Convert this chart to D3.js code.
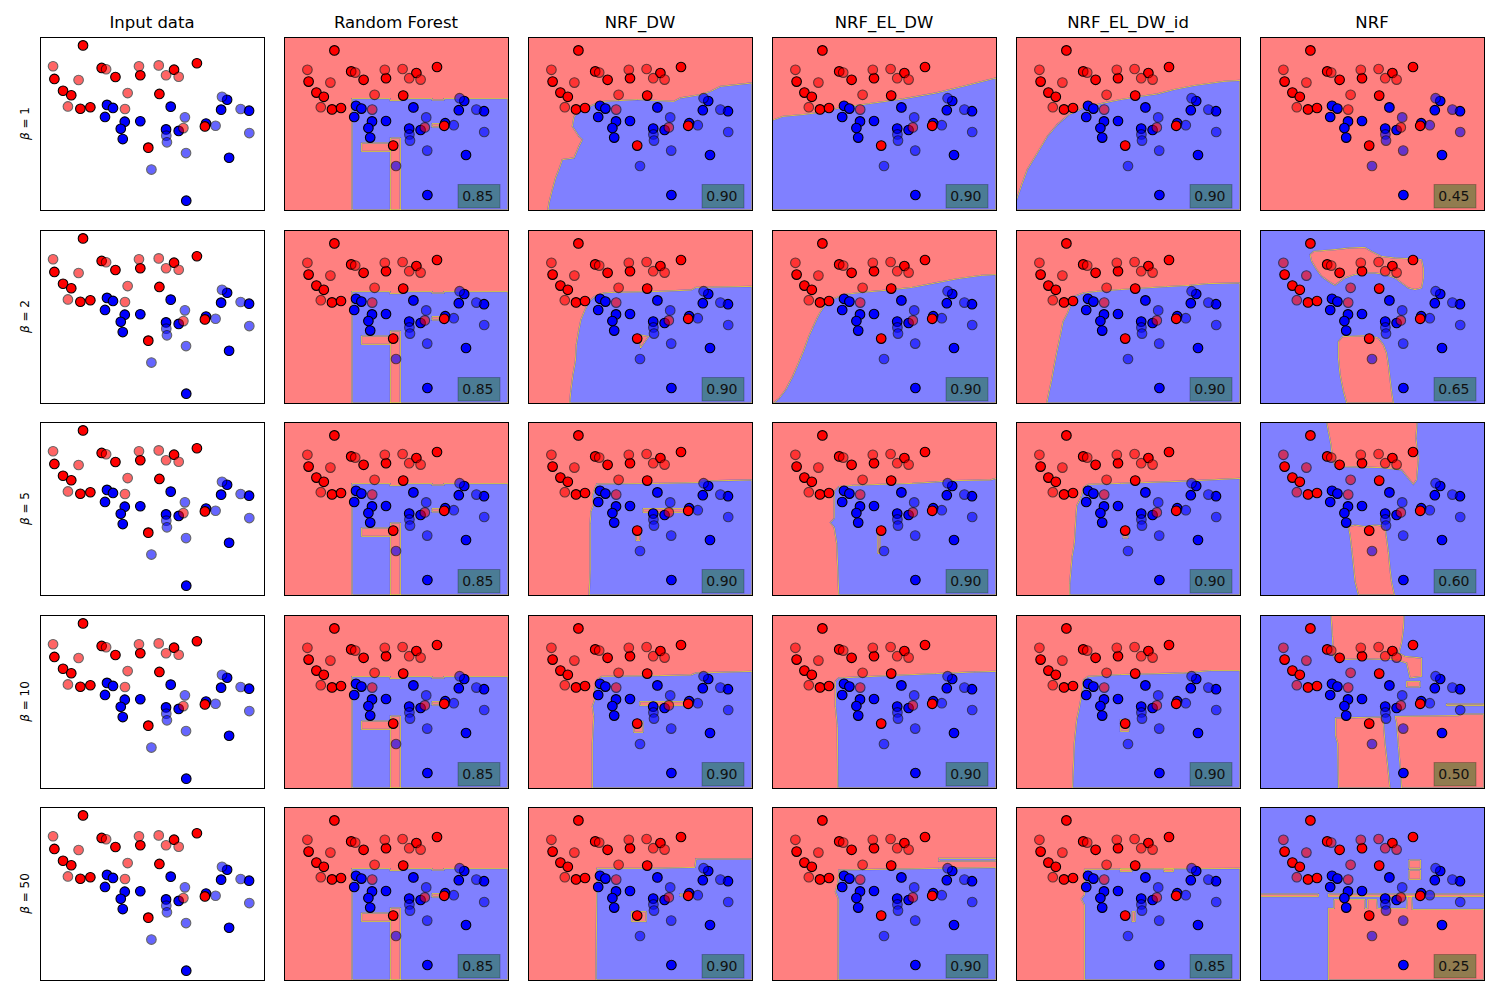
<!DOCTYPE html>
<html><head><meta charset="utf-8">
<script src="https://cdn.jsdelivr.net/npm/d3@7"></script>
<style>body{margin:0;background:#fff}text{font-family:"DejaVu Sans",sans-serif}</style>
</head><body><svg id="c" width="1500" height="1000"></svg>
<script>
// ---------------- data ----------------
const methods = ["Input data", "Random Forest", "NRF_DW", "NRF_EL_DW", "NRF_EL_DW_id", "NRF"];
const betas = [1, 2, 5, 10, 50];
// test accuracy per row (beta) for the 5 classifiers
const scores = [
  [0.85, 0.90, 0.90, 0.90, 0.45],
  [0.85, 0.90, 0.90, 0.90, 0.65],
  [0.85, 0.90, 0.90, 0.90, 0.60],
  [0.85, 0.90, 0.90, 0.90, 0.50],
  [0.85, 0.90, 0.90, 0.85, 0.25]
];
// feature space
const xDomain = [0, 11.2], yDomain = [0, 8.65];          // mesh (decision) range
const xInput = [0.582, 10.672], yInput = [0.318, 8.371];  // input panel range
const redTrain = [[2.52,7.98],[3.36,6.93],[7.65,7.15],[6.62,6.85],[3.98,6.51],[5.10,6.59],[1.23,6.42],
  [1.62,5.87],[1.99,5.66],[5.96,5.72],[2.40,5.03],[2.85,5.10],[8.01,4.21],[5.46,3.22]];
const blueTrain = [[3.60,5.21],[3.87,5.07],[3.51,4.65],[4.40,4.43],[4.22,4.10],[4.31,3.62],[5.10,4.45],
  [6.47,5.13],[6.26,4.07],[6.83,4.00],[8.06,4.34],[9.01,5.45],[8.74,4.99],[10.00,4.94],[9.10,2.75],[7.17,0.75]];
const redTest = [[1.17,7.01],[3.56,6.87],[5.04,7.01],[5.93,7.05],[6.26,6.59],[6.83,6.52],[2.32,6.37],
  [4.53,5.76],[1.84,5.14],[4.41,5.02],[7.04,4.13]];
const blueTest = [[7.11,4.63],[6.27,3.78],[6.30,3.47],[8.49,4.24],[8.78,5.59],[9.62,5.02],[10.01,3.90],
  [7.16,2.97],[5.60,2.20]];

function box(x0, x1, y0, y1) { return [[x0,y0],[x1,y0],[x1,y1],[x0,y1]]; }

// decision regions: background class + polygons [class, vertices]
const rfRegion = {bg: "r", polys: [
  ["b", [[3.4,0],[3.4,5.57],[5.3,5.57],[5.3,5.47],[5.9,5.47],[5.9,5.57],[7.4,5.57],[7.4,5.5],[8.0,5.5],[8.0,5.57],[11.2,5.57],[11.2,0]]],
  ["r", box(5.32,5.82,0,3.6)],
  ["r", box(3.87,5.32,2.93,3.35)],
  ["r", box(7.4,8.07,4.15,4.32)]
]};
const rfRegions = [rfRegion, rfRegion, rfRegion, rfRegion, rfRegion];

const dwRegions = [
  {bg: "r", polys: [["b", [[11.2,6.35],[9.63,6.18],[9.13,5.93],[8.63,5.77],[7.63,5.6],[7.3,5.43],[5.47,5.52],[3.8,5.43],[3.47,5.35],[2.55,4.93],[2.3,4.65],[2.22,4.18],[2.55,3.68],[2.72,3.52],[2.55,3.18],[2.3,2.6],[1.72,2.52],[1.55,2.02],[1.38,1.6],[1.22,1.02],[1.05,0.35],[1.0,0],[11.2,0]]]]},
  {bg: "r", polys: [["b", [[11.2,5.83],[8.4,5.78],[8.17,5.65],[6.56,5.58],[4.26,5.53],[3.8,5.5],[3.34,5.33],[3.06,5.08],[2.88,4.72],[2.65,4.17],[2.53,3.58],[2.42,2.92],[2.37,2.08],[2.25,1.42],[2.14,0.58],[2.09,0],[11.2,0]]],
    ["r", [[5.52,3.42],[6.04,3.33],[5.63,2.75]]]]},
  {bg: "r", polys: [["b", [[11.2,5.75],[8.86,5.7],[8.51,5.62],[6.56,5.58],[3.45,5.55],[3.34,5.33],[3.22,4.92],[3.29,4.55],[3.15,4.17],[3.11,3.58],[3.11,1.25],[3.06,0],[11.2,0]]],
    ["r", box(5.75,8.05,4.13,4.32)], ["r", box(5.4,5.6,2.72,3.25)]]},
  {bg: "r", polys: [["b", [[11.2,5.83],[8.4,5.75],[8.17,5.65],[6.56,5.62],[3.68,5.58],[3.45,5.42],[3.34,4.92],[3.34,4.42],[3.22,4.08],[3.29,3.58],[3.22,2.25],[3.22,0],[11.2,0]]],
    ["r", box(5.59,8.05,4.12,4.32)], ["r", box(5.29,5.75,2.78,3.33)]]},
  {bg: "r", polys: [["b", [[11.2,6.05],[8.4,6.05],[8.35,5.63],[6.1,5.58],[3.45,5.58],[3.4,0],[11.2,0]]],
    ["r", box(5.18,5.91,2.92,3.42)], ["r", box(7.6,8.05,4.2,4.3)]]}
];

const eldwRegions = [
  {bg: "r", polys: [["b", [[0,4.48],[0.55,4.68],[1.55,4.77],[2.38,4.88],[3.38,5.1],[4.88,5.32],[6.55,5.55],[8.22,5.85],[9.55,6.18],[11.2,6.6],[11.2,0],[0,0]]]]},
  {bg: "r", polys: [["b", [[11.2,6.42],[10.47,6.38],[9.32,6.22],[8.17,6.0],[7.02,5.78],[5.87,5.65],[4.49,5.53],[3.57,5.42],[3.11,5.22],[2.65,4.88],[2.42,4.55],[2.25,4.22],[2.07,3.83],[1.84,3.33],[1.61,2.67],[1.33,2.0],[1.04,1.33],[0.69,0.67],[0.35,0.22],[0.07,0],[11.2,0]]]]},
  {bg: "r", polys: [["b", [[11.2,5.83],[10.93,5.75],[9.09,5.72],[8.17,5.65],[7.02,5.58],[5.41,5.53],[4.03,5.48],[3.34,5.42],[3.11,5.17],[3.11,3.83],[2.92,3.62],[3.11,3.38],[3.24,2.58],[3.34,0],[11.2,0]]],
    ["r", box(5.29,5.4,2.08,3.25)]]},
  {bg: "r", polys: [["b", [[11.2,5.83],[10.12,5.8],[8.17,5.72],[5.87,5.62],[3.34,5.5],[3.17,5.33],[3.17,4.08],[3.27,3.08],[3.29,0],[11.2,0]]]]},
  {bg: "r", polys: [["b", [[11.2,5.62],[8.33,5.58],[3.36,5.5],[3.31,4.92],[3.17,4.42],[3.31,4.08],[3.31,0],[11.2,0]]],
    ["b", box(8.35,11.2,5.95,6.08)]]}
];

const eldwidRegions = [
  {bg: "r", polys: [["b", [[0,0.43],[0.32,1.35],[0.57,2.02],[1.07,2.85],[1.57,3.68],[2.07,4.27],[2.65,4.77],[3.4,5.1],[4.4,5.35],[5.23,5.52],[6.23,5.68],[7.07,5.8],[7.9,6.02],[8.9,6.22],[10.4,6.43],[11.2,6.48],[11.2,0],[0,0]]]]},
  {bg: "r", polys: [["b", [[11.2,6.0],[9.59,5.97],[8.67,5.88],[7.52,5.82],[5.22,5.67],[4.07,5.58],[3.38,5.5],[2.92,5.33],[2.76,4.95],[2.58,4.5],[2.35,4.05],[2.23,3.42],[2.05,2.58],[1.89,1.75],[1.77,1.08],[1.66,0.58],[1.54,0],[11.2,0]]]]},
  {bg: "r", polys: [["b", [[11.2,5.83],[8.67,5.7],[5.22,5.58],[3.61,5.53],[3.38,5.38],[3.27,4.92],[3.04,4.45],[3.0,3.92],[2.92,2.58],[2.81,1.92],[2.69,0.58],[2.69,0],[11.2,0]]],
    ["r", box(5.35,5.6,2.85,3.3)]]},
  {bg: "r", polys: [["b", [[11.2,5.87],[9.71,5.87],[8.44,5.75],[5.22,5.67],[3.61,5.58],[3.38,5.42],[3.27,4.58],[3.15,3.92],[3.04,3.42],[2.92,2.25],[2.83,0],[11.2,0]]],
    ["r", box(5.22,5.64,2.83,3.42)]]},
  {bg: "r", polys: [["b", [[11.2,5.58],[3.43,5.53],[3.43,4.25],[3.27,4.05],[3.43,3.75],[3.43,0],[11.2,0]]],
    ["r", box(5.8,5.96,2.92,3.42)], ["r", box(5.22,5.8,5.42,5.56)], ["r", box(7.4,7.87,5.42,5.56)], ["r", box(7.75,7.98,4.17,4.25)]]}
];

const nrfRegions = [
  {bg: "r", polys: []},
  {bg: "b", polys: [
    ["r", [[2.5,7.42],[2.67,7.58],[3.75,7.67],[4.42,7.75],[5.25,7.78],[5.58,7.58],[6.08,7.33],[6.75,7.25],[7.42,7.22],[8.08,7.17],[8.17,6.75],[8.17,6.25],[8.08,5.75],[7.75,5.67],[7.42,5.75],[7.08,6.0],[6.75,6.25],[6.25,6.42],[5.75,6.5],[5.25,6.5],[4.75,6.42],[4.25,6.25],[3.75,5.88],[3.42,6.08],[3.08,6.33],[2.83,6.67],[2.58,7.08]]],
    ["r", [[3.92,3.08],[4.12,3.32],[5.42,3.37],[5.92,3.25],[6.17,2.92],[6.33,2.5],[6.42,1.92],[6.5,1.25],[6.58,0.58],[6.67,0],[4.33,0],[4.17,0.58],[4.0,1.42],[3.92,2.25]]]]},
  {bg: "b", polys: [
    ["r", [[3.33,8.65],[3.42,8.17],[3.55,7.5],[3.62,6.83],[3.75,6.42],[4.75,6.4],[6.08,6.37],[7.08,6.25],[7.42,5.83],[7.67,5.53],[7.83,5.75],[7.92,6.83],[7.8,7.83],[7.85,8.5],[7.85,8.65]]],
    ["r", [[4.42,3.42],[4.75,3.5],[5.25,3.42],[5.75,3.5],[6.25,3.45],[6.33,2.83],[6.42,2.17],[6.5,1.33],[6.58,0.67],[6.72,0],[4.92,0],[4.75,0.67],[4.67,1.5],[4.58,2.33],[4.5,3.0]]]]},
  {bg: "b", polys: [
    ["r", [[3.55,8.65],[7.2,8.65],[7.17,7.92],[7.08,7.25],[6.95,6.75],[7.25,6.58],[8.08,6.5],[8.08,5.58],[7.5,5.5],[7.33,6.25],[6.75,6.42],[5.25,6.45],[3.83,6.42],[3.67,6.58],[3.62,7.58]]],
    ["r", box(7.33,8.0,5.05,5.33)],
    ["r", box(9.33,11.2,4.12,4.2)],
    ["r", [[3.78,3.5],[6.08,3.55],[6.17,3.33],[6.25,2.25],[6.37,1.25],[6.5,0],[3.92,0],[3.88,2.25],[3.78,2.58]]],
    ["r", [[6.75,3.58],[9.92,3.62],[10.08,3.7],[11.2,3.7],[11.2,0],[7.08,0],[7.02,0.92],[6.92,2.08],[6.83,3.25]]]]},
  {bg: "b", polys: [
    ["r", box(0,2.92,4.17,4.3)],
    ["r", box(3.42,11.2,4.17,4.3)],
    ["r", [[3.42,0],[3.42,3.58],[3.7,3.58],[3.7,4.03],[5.25,4.03],[5.25,3.58],[5.38,3.58],[5.38,4.03],[5.83,4.03],[5.87,3.58],[7.33,3.58],[7.38,4.17],[7.58,4.17],[7.62,3.53],[11.2,3.53],[11.2,0]]],
    ["r", box(7.45,8.03,5.58,6.0)],
    ["r", box(7.45,8.03,5.03,5.5)]]}
];
const regionSets = [rfRegions, dwRegions, eldwRegions, eldwidRegions, nrfRegions];

// ---------------- drawing ----------------
const W = 224, H = 173;
const lefts = [40, 284, 528, 772, 1016, 1260];
const tops = [37, 230, 422, 615, 807];
const regionColor = {r: "#ff8080", b: "#8080ff"};
const pointColor = {r: "#ff0000", b: "#0000ff"};
const svg = d3.select("#c");
const defs = svg.append("defs");

// column titles
svg.selectAll("text.title").data(methods).join("text")
  .attr("class", "title")
  .attr("x", (d, i) => lefts[i] + W / 2).attr("y", 27.5)
  .attr("text-anchor", "middle").attr("font-size", "16.5px").attr("fill", "#000")
  .text(d => d);

function drawPoints(g, x, y) {
  const sets = [[blueTrain, "b", 1], [redTrain, "r", 1], [redTest, "r", 0.6], [blueTest, "b", 0.6]];
  sets.forEach(([pts, c, op]) => {
    g.append("g").selectAll("circle").data(pts).join("circle")
      .attr("cx", d => x(d[0])).attr("cy", d => y(d[1])).attr("r", 4.8)
      .attr("fill", pointColor[c]).attr("stroke", "#000").attr("stroke-width", 1.1)
      .attr("opacity", op);
  });
}

betas.forEach((beta, r) => {
  const top = tops[r];
  // row label
  const lab = svg.append("text")
    .attr("transform", `translate(${24.5},${top + H / 2}) rotate(-90)`)
    .attr("text-anchor", "middle").attr("dominant-baseline", "central")
    .attr("font-size", "12px").attr("fill", "#000");
  lab.append("tspan").attr("font-style", "italic").text("β");
  lab.append("tspan").text(" = " + beta);

  methods.forEach((m, c) => {
    const left = lefts[c];
    const g = svg.append("g");
    const cid = `clip-${r}-${c}`;
    defs.append("clipPath").attr("id", cid).append("rect")
      .attr("x", left).attr("y", top).attr("width", W).attr("height", H);
    const inner = g.append("g").attr("clip-path", `url(#${cid})`);
    if (c === 0) {
      const x = d3.scaleLinear().domain(xInput).range([left, left + W]);
      const y = d3.scaleLinear().domain(yInput).range([top + H, top]);
      inner.append("rect").attr("x", left).attr("y", top).attr("width", W).attr("height", H).attr("fill", "#fff");
      drawPoints(inner, x, y);
    } else {
      const x = d3.scaleLinear().domain(xDomain).range([left, left + W]);
      const y = d3.scaleLinear().domain(yDomain).range([top + H, top]);
      const reg = regionSets[c - 1][r];
      inner.append("rect").attr("x", left).attr("y", top).attr("width", W).attr("height", H)
        .attr("fill", regionColor[reg.bg]);
      const line = d3.line().x(d => x(d[0])).y(d => y(d[1]));
      inner.selectAll("path.reg").data(reg.polys).join("path")
        .attr("class", "reg")
        .attr("d", d => line(d[1]) + "Z")
        .attr("fill", d => regionColor[d[0]])
        .attr("stroke", "#4b4bf0").attr("stroke-width", 1.4).attr("stroke-linejoin", "miter");
      inner.selectAll("path.reg2").data(reg.polys).join("path")
        .attr("class", "reg2")
        .attr("d", d => line(d[1]) + "Z")
        .attr("fill", "none")
        .attr("stroke", "#ffe21a").attr("stroke-width", 0.8);
      drawPoints(inner, x, y);
      // score box
      const s = scores[r][c - 1];
      inner.append("rect")
        .attr("x", left + W - 50).attr("y", top + H - 25.5).attr("width", 42).attr("height", 23.5)
        .attr("fill", "#0a7814").attr("fill-opacity", 0.45)
        .attr("stroke", "#000").attr("stroke-opacity", 0.25).attr("stroke-width", 1);
      inner.append("text")
        .attr("x", left + W - 14.5).attr("y", top + H - 9.5)
        .attr("text-anchor", "end").attr("font-size", "14px").attr("fill", "#111")
        .text(s.toFixed(2));
    }
    g.append("rect").attr("x", left).attr("y", top).attr("width", W).attr("height", H)
      .attr("fill", "none").attr("stroke", "#000").attr("stroke-width", 1)
      .attr("shape-rendering", "crispEdges");
  });
});
</script></body></html>
